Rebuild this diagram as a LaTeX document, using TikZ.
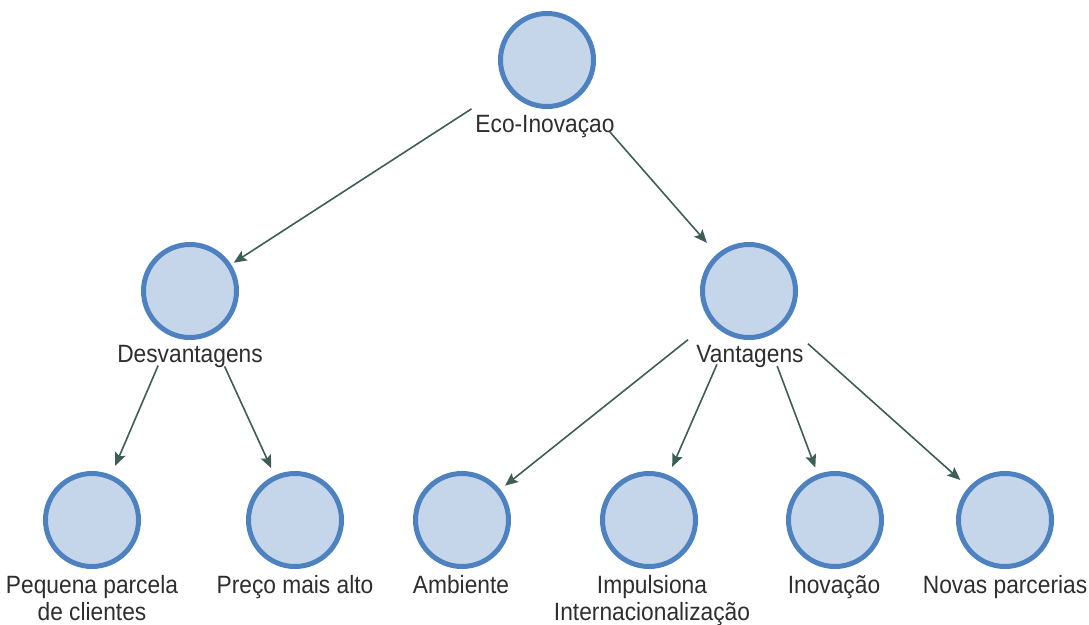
\documentclass[tikz,border=0pt]{standalone}
\usepackage{fontspec}
\setmainfont{Liberation Sans}
\newfontfamily\lblfont[FakeStretch=0.91]{Liberation Sans}
\usetikzlibrary{arrows.meta}
\definecolor{ballfill}{HTML}{C6D6EA}
\definecolor{ballline}{HTML}{4E81BF}
\definecolor{edgecol}{HTML}{3D5D57}
\definecolor{txtcol}{HTML}{2E2E2E}
\tikzset{
  ball/.style={circle, draw=ballline, fill=ballfill, line width=5pt,
    minimum size=93pt, inner sep=0pt},
  lbl/.style={anchor=base, inner sep=0pt, align=center, text=txtcol,
    font=\lblfont\fontsize{25}{27}\selectfont},
  link/.style={draw=edgecol, line width=1.6pt,
    -{Stealth[length=13pt,width=11pt,inset=2.5pt]}},
}
\begin{document}
\begin{tikzpicture}[x=1pt,y=-1pt]
\useasboundingbox (0,0) rectangle (1089,624);

% circles
\node[ball] (eco)  at (547,60)  {};
\node[ball] (desv) at (190,291) {};
\node[ball] (vant) at (749,291) {};
\node[ball] (peq)  at (92,520)  {};
\node[ball] (prc)  at (295,520) {};
\node[ball] (amb)  at (462,520) {};
\node[ball] (imp)  at (649,520) {};
\node[ball] (inov) at (835,520) {};
\node[ball] (nov)  at (1005,520){};

% labels
\node[lbl] (ecoL)  at (545,132) {Eco-Inovaçao};
\node[lbl] (desvL) at (190,362) {Desvantagens};
\node[lbl] (vantL) at (750,362) {Vantagens};
\node[lbl] (peqL)  at (92,620)  {Pequena parcela\\de clientes};
\node[lbl] (prcL)  at (295,593) {Preço mais alto};
\node[lbl] (ambL)  at (461,593) {Ambiente};
\node[lbl] (impL)  at (652,620) {Impulsiona\\Internacionalização};
\node[lbl] (inovL) at (834,593) {Inovação};
\node[lbl] (novL)  at (1005,593){Novas parcerias};

% connectors
\draw[link, shorten <=90pt, shorten >=52pt] (eco.center) -- (desv.center);
\draw[link, shorten <=95pt, shorten >=64pt] (eco.center) -- (vant.center);
\draw[link, shorten <=81pt, shorten >=59pt] (desv.center) -- (peq.center);
\draw[link, shorten <=83pt, shorten >=57pt] (desv.center) -- (prc.center);
\draw[link, shorten <=78pt, shorten >=55pt] (vant.center) -- (amb.center);
\draw[link, shorten <=80pt, shorten >=58pt] (vant.center) -- (imp.center);
\draw[link, shorten <=80pt, shorten >=56pt] (vant.center) -- (inov.center);
\draw[link, shorten <=79pt, shorten >=60pt] (vant.center) -- (nov.center);
\end{tikzpicture}
\end{document}
